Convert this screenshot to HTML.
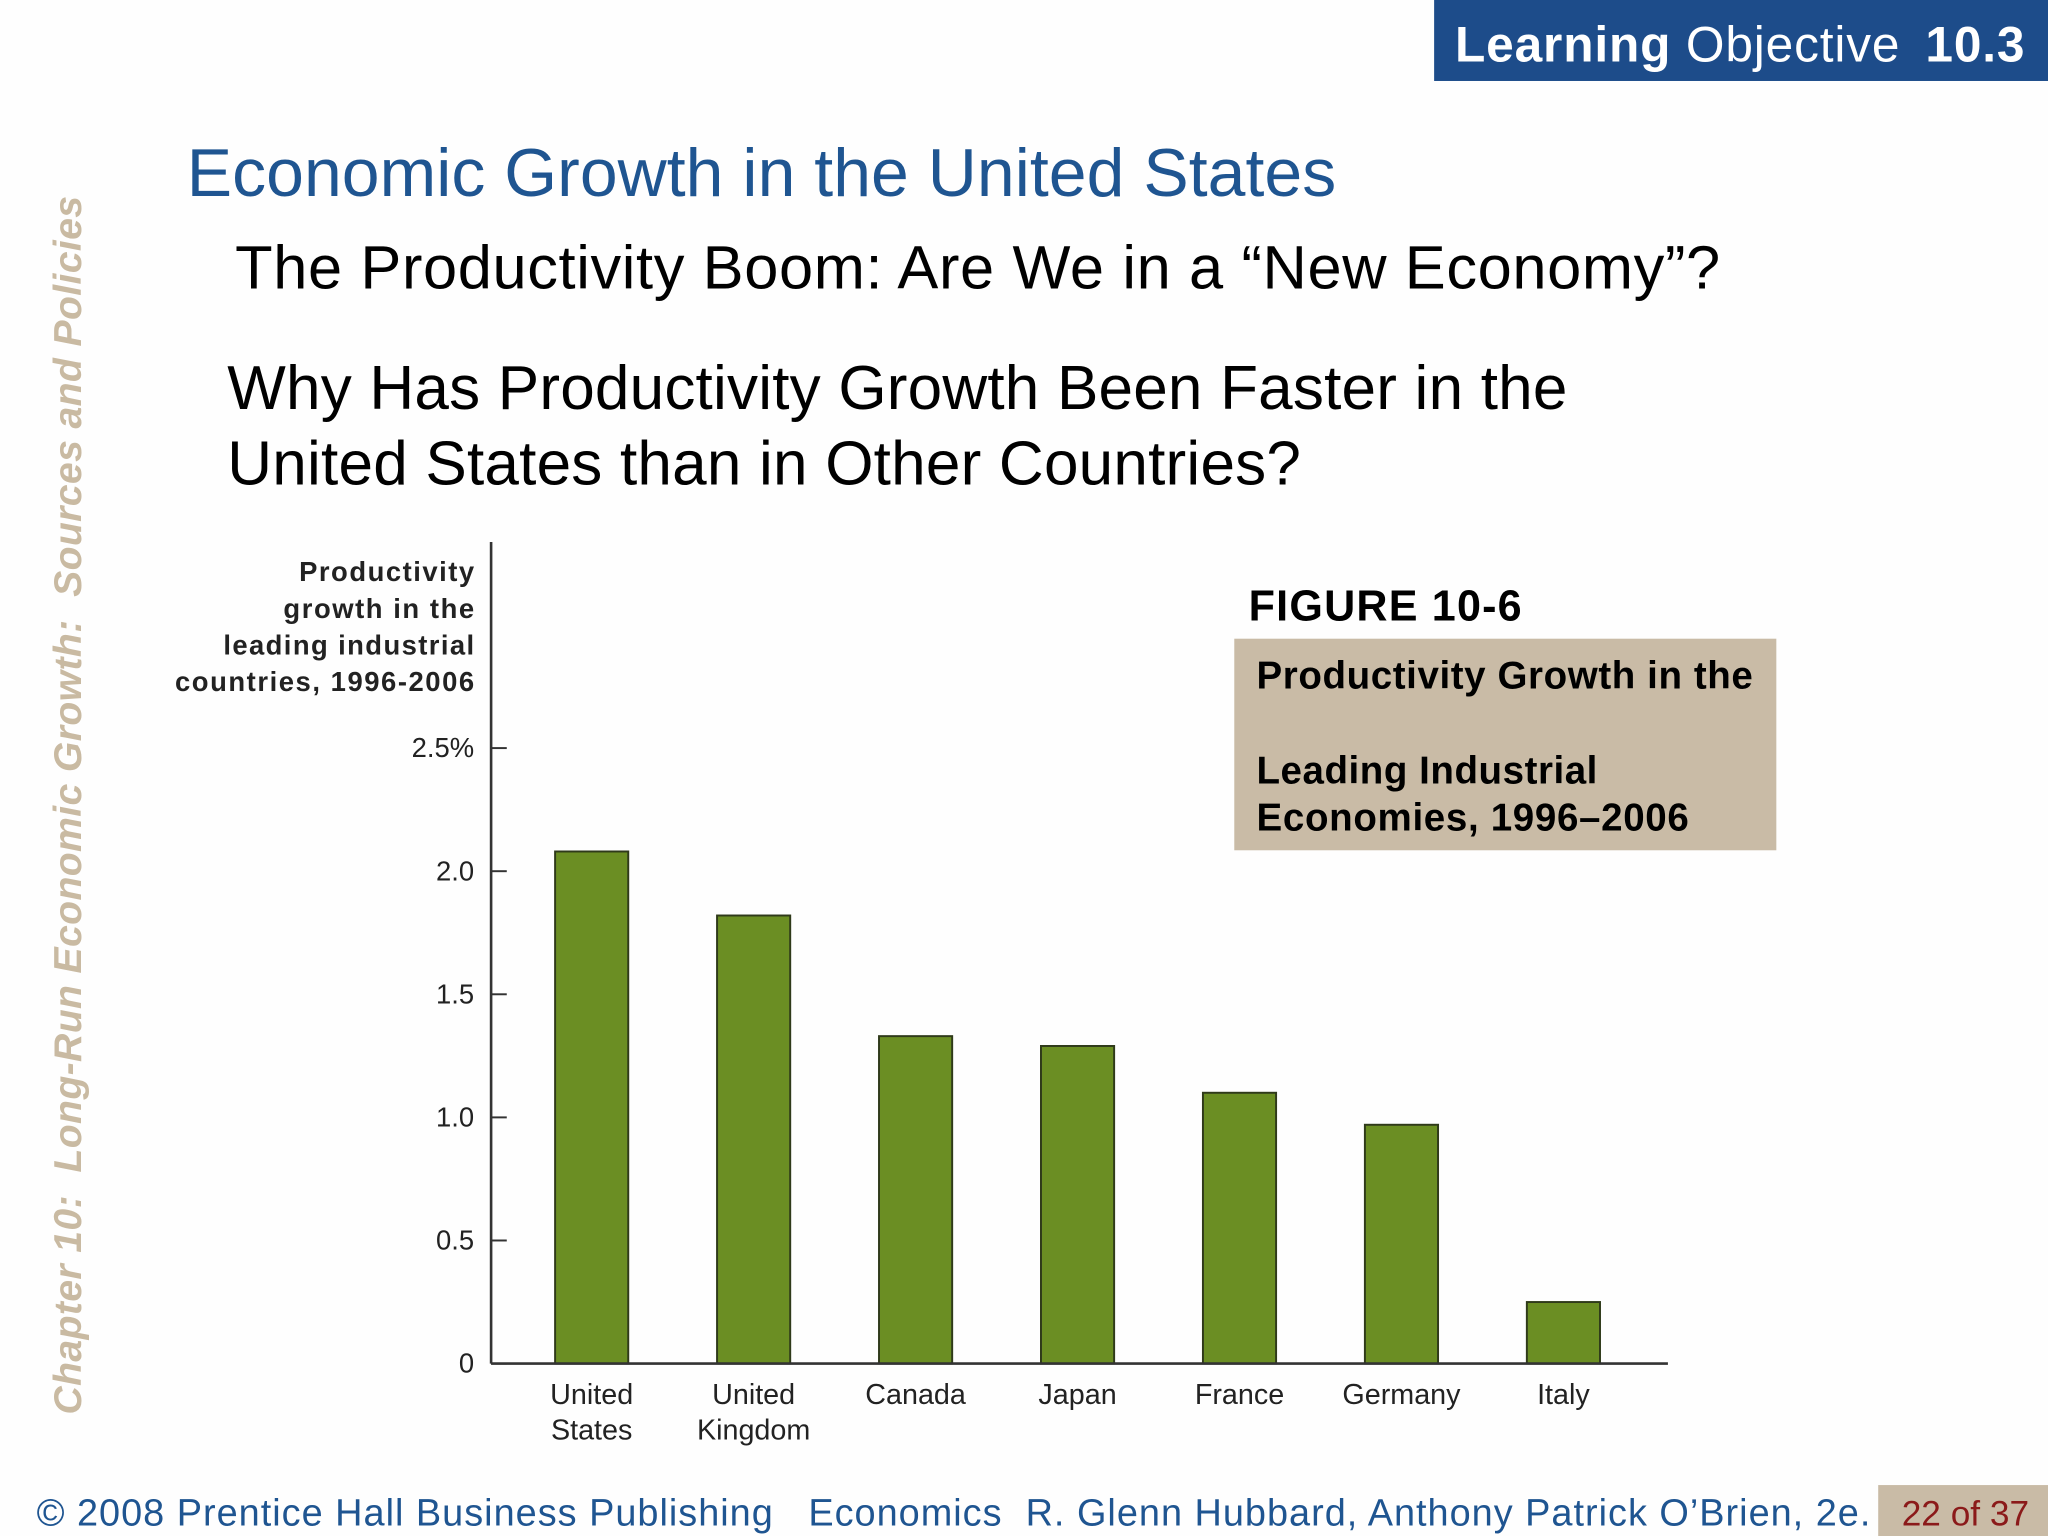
<!DOCTYPE html>
<html><head><meta charset="utf-8"><style>
html,body{margin:0;padding:0;background:#fff;}
svg{display:block;font-family:"Liberation Sans",sans-serif;}
</style></head><body>
<svg id="slide" width="2048" height="1536" viewBox="0 0 1568 1176" xmlns="http://www.w3.org/2000/svg">
<rect x="0" y="0" width="1568" height="1176" fill="#fefefe"/>
<g>
<rect x="1098" y="0" width="470" height="62" fill="#1d4c8a"/>
<text x="1114" y="47" font-size="38" fill="#fff" textLength="436" lengthAdjust="spacing"><tspan font-weight="bold">Learning</tspan> Objective <tspan font-weight="bold" dx="8">10.3</tspan></text>
</g>
<text x="143" y="150" font-size="52" fill="#1f5591" textLength="880">Economic Growth in the United States</text>
<text x="180" y="221" font-size="47" fill="#000" textLength="1137">The Productivity Boom: Are We in a “New Economy”?</text>
<text x="174" y="313" font-size="47.5" fill="#000" textLength="1026">Why Has Productivity Growth Been Faster in the</text>
<text x="174" y="371" font-size="47.5" fill="#000" textLength="822">United States than in Other Countries?</text>
<text transform="translate(62,1083) rotate(-90)" font-size="30" font-weight="bold" font-style="italic" fill="#c9baa2" textLength="933" xml:space="preserve">Chapter 10:  Long-Run Economic Growth:  Sources and Policies</text>

<g font-size="21" font-weight="bold" fill="#222" text-anchor="end">
<text x="363" y="445" textLength="134">Productivity</text>
<text x="363" y="473" textLength="146">growth in the</text>
<text x="363" y="501" textLength="192">leading industrial</text>
<text x="363" y="529" textLength="229">countries, 1996-2006</text>
</g>
<g id="chart"></g>

<g>
<text x="956" y="475" font-size="33" font-weight="bold" fill="#000" textLength="209">FIGURE 10-6</text>
<rect x="945" y="489" width="415" height="162" fill="#c9bba6"/>
<g font-size="29.5" font-weight="bold" fill="#000">
<text x="962" y="527" textLength="380">Productivity Growth in the</text>
<text x="962" y="600" textLength="261">Leading Industrial</text>
<text x="962" y="636" textLength="331">Economies, 1996–2006</text>
</g>
</g>

<text x="28" y="1168" font-size="29" fill="#1f5591" textLength="1404" xml:space="preserve">© 2008 Prentice Hall Business Publishing   Economics  R. Glenn Hubbard, Anthony Patrick O’Brien, 2e.</text>
<g>
<rect x="1438" y="1137" width="130" height="39" fill="#c9bba6"/>
<text x="1456" y="1168" font-size="27" fill="#8b1a1a">22 of 37</text>
</g>
</svg>
<script>
const categories = [["United","States"],["United","Kingdom"],["Canada"],["Japan"],["France"],["Germany"],["Italy"]];
const values = [2.08, 1.82, 1.33, 1.29, 1.10, 0.97, 0.25];
const tickValues = [0, 0.5, 1.0, 1.5, 2.0, 2.5];
const tickLabels = ["0","0.5","1.0","1.5","2.0","2.5%"];

const NS = "http://www.w3.org/2000/svg";
const g = document.getElementById("chart");
const axisX = 376, axisY = 1044, plotRight = 1277, top0 = 415;
const yScale = v => axisY - v * 188.5;
const band = 124, firstCenter = 453, barW = 56;
const xCenter = i => firstCenter + i * band;
function mk(tag, attrs){const e=document.createElementNS(NS,tag);for(const k in attrs)e.setAttribute(k,attrs[k]);g.appendChild(e);return e;}

values.forEach((v,i)=>{
  const r = mk("rect",{x:xCenter(i)-barW/2,y:yScale(v),width:barW,height:axisY-yScale(v),fill:"#6b8e23",stroke:"#2f3a1a","stroke-width":1.5});
  
  
  categories[i].forEach((line,j)=>{
    const t = mk("text",{x:xCenter(i),y:1075+j*27,"text-anchor":"middle","font-size":22,fill:"#222"});
    t.textContent = line;
    
    
  });
});
tickValues.forEach((v,i)=>{
  const y = yScale(v);
  const l = mk("line",{x1:axisX,x2:axisX+12,y1:y,y2:y,stroke:"#333","stroke-width":1.5});
  
  
  const t = mk("text",{x:363,y:y+7,"text-anchor":"end","font-size":21,fill:"#222"});
  t.textContent = tickLabels[i];
  
  
});
const ya = mk("line",{x1:axisX,x2:axisX,y1:top0,y2:axisY,stroke:"#333","stroke-width":2});


const xa = mk("line",{x1:axisX,x2:plotRight,y1:axisY,y2:axisY,stroke:"#333","stroke-width":2});


</script>
</body></html>
